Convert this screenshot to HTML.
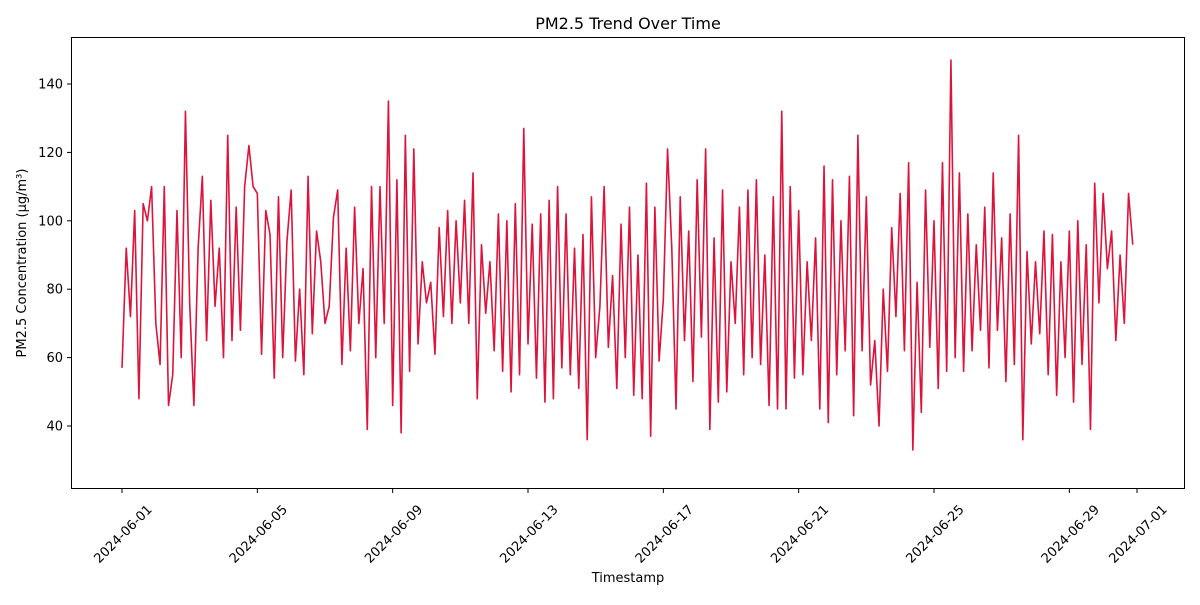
<!DOCTYPE html>
<html><head><meta charset="utf-8"><style>
html,body{margin:0;padding:0;background:#fff;}
svg text{font-family:"DejaVu Sans","Liberation Sans",sans-serif;fill:#000;}
</style></head><body>
<svg id="chart" width="1200" height="600" viewBox="0 0 1200 600" xmlns="http://www.w3.org/2000/svg">
<rect width="1200" height="600" fill="#fff"/>
<text x="628" y="29" font-size="16" text-anchor="middle">PM2.5 Trend Over Time</text>
<text x="628" y="582" font-size="13" text-anchor="middle">Timestamp</text>
<text transform="translate(26,263) rotate(-90)" font-size="13" text-anchor="middle">PM2.5 Concentration (µg/m³)</text>
<g id="ticks"></g>
<path id="line" fill="none" stroke="#dc143c" stroke-width="1.6" stroke-linejoin="round"/>
<rect x="71.5" y="37.5" width="1113" height="451" fill="none" stroke="#000" stroke-width="1"/>
</svg>
<script>
const yTicks=[40,60,80,100,120,140];
const xTickLabels=["2024-06-01","2024-06-05","2024-06-09","2024-06-13","2024-06-17","2024-06-21","2024-06-25","2024-06-29","2024-07-01"];
const xTickDays=[0,4,8,12,16,20,24,28,30];
const stepHours=3;
const pm25=[
57,92,72,103,48,105,100,110,
70,58,110,46,55,103,60,132,
76,46,92,113,65,106,75,92,
60,125,65,104,68,110,122,110,
108,61,103,96,54,107,60,94,
109,59,80,55,113,67,97,88,
70,75,101,109,58,92,62,104,
70,86,39,110,60,110,70,135,
46,112,38,125,56,121,64,88,
76,82,61,98,72,103,70,100,
76,106,70,114,48,93,73,88,
62,102,56,100,50,105,55,127,
64,99,54,102,47,106,48,110,
57,102,55,92,51,96,36,107,
60,75,110,63,84,51,99,60,
104,49,90,48,111,37,104,59,
77,121,92,45,107,65,97,53,
112,66,121,39,95,47,109,50,
88,70,104,55,109,60,112,58,
90,46,107,45,132,45,110,54,
103,55,88,65,95,45,116,41,
112,55,100,62,113,43,125,62,
107,52,65,40,80,56,98,72,
108,62,117,33,82,44,109,63,
100,51,117,56,147,60,114,56,
102,62,93,68,104,57,114,68,
95,53,102,58,125,36,91,64,
88,67,97,55,96,49,88,60,
97,47,100,58,93,39,111,76,
108,86,97,65,90,70,108,93
];
const xS=d=>122+d*(1137-122)/30;
const yS=v=>84+(140-v)*(426-84)/100;
const NS="http://www.w3.org/2000/svg";
const g=document.getElementById('ticks');
yTicks.forEach(t=>{
  const y=yS(t);
  const l=document.createElementNS(NS,'line');
  l.setAttribute('x1',67);l.setAttribute('x2',71.5);l.setAttribute('y1',y);l.setAttribute('y2',y);l.setAttribute('stroke','#000');
  
  
  g.appendChild(l);
  const tx=document.createElementNS(NS,'text');
  tx.setAttribute('x',63);tx.setAttribute('y',y+4.5);tx.setAttribute('font-size','13');tx.setAttribute('text-anchor','end');
  tx.textContent=t;
  
  
  g.appendChild(tx);
});
xTickDays.forEach((d,i)=>{
  const x=xS(d);
  const l=document.createElementNS(NS,'line');
  l.setAttribute('x1',x);l.setAttribute('x2',x);l.setAttribute('y1',488.5);l.setAttribute('y2',493);l.setAttribute('stroke','#000');
  
  
  g.appendChild(l);
  const tx=document.createElementNS(NS,'text');
  tx.setAttribute('transform','translate('+(x+4)+',537) rotate(-45)');
  tx.setAttribute('font-size','13');tx.setAttribute('text-anchor','middle');
  tx.textContent=xTickLabels[i];
  
  
  g.appendChild(tx);
});
let d='';
pm25.forEach((v,i)=>{d+=(i?'L':'M')+xS(i*stepHours/24).toFixed(2)+','+yS(v).toFixed(2);});
document.getElementById('line').setAttribute('d',d);
</script>
</body></html>
